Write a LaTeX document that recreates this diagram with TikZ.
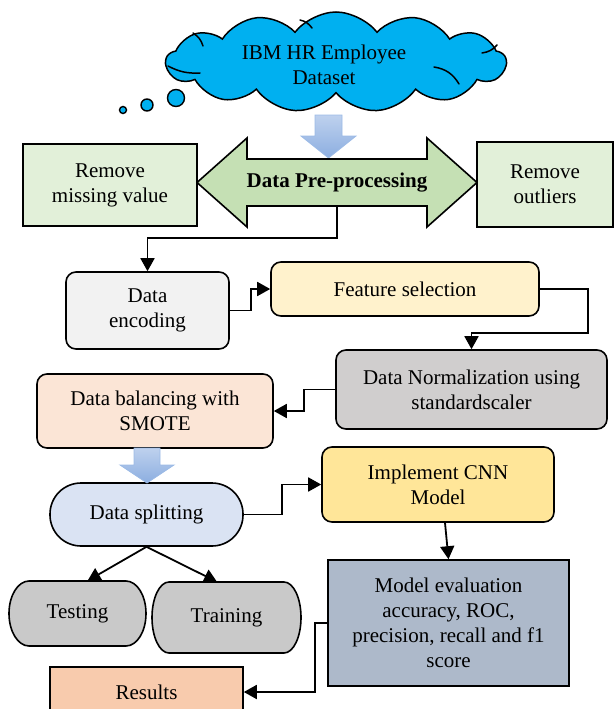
\documentclass[tikz,border=0pt]{standalone}
\usepackage{fontspec}
\setmainfont{Liberation Serif}
\usetikzlibrary{shapes.symbols,arrows.meta,calc}

\definecolor{cloudblue}{HTML}{00B0F0}
\definecolor{palegreen}{HTML}{E2F0D9}
\definecolor{midgreen}{HTML}{C5E0B4}
\definecolor{encfill}{HTML}{F2F2F2}
\definecolor{featfill}{HTML}{FFF2CC}
\definecolor{normfill}{HTML}{D0CECE}
\definecolor{balfill}{HTML}{FBE5D6}
\definecolor{splitfill}{HTML}{DAE3F3}
\definecolor{cnnfill}{HTML}{FFE699}
\definecolor{evalfill}{HTML}{ADB9CA}
\definecolor{setfill}{HTML}{C9C9C9}
\definecolor{resfill}{HTML}{F8CBAD}
\definecolor{arrowtop}{HTML}{BED1EE}
\definecolor{arrowbot}{HTML}{8CAEE0}
\definecolor{arrowedge}{HTML}{9BBAE6}

\begin{document}
\begin{tikzpicture}[x=1pt,y=-1pt,
  every node/.style={font=\fontsize{21}{25}\selectfont, align=center, inner sep=0pt},
  box/.style={draw=black, line width=1.6pt},
  rbox/.style={box, rounded corners=10pt},
  conn/.style={line width=1.8pt, -{Triangle[length=13pt,width=14pt]}},
  blockarrow/.style={top color=arrowtop, bottom color=arrowbot, draw=arrowedge, line width=0.8pt},
  bubble/.style={circle, draw=black, fill=cloudblue, line width=1.4pt},
  crease/.style={line width=1.5pt, line cap=round},
]
\useasboundingbox (0,0) rectangle (614,709);

% dataset cloud with its thought bubbles
\node[cloud, draw=black, fill=cloudblue, line width=1.5pt, cloud puffs=13,
      cloud puff arc=105, minimum width=340pt, minimum height=100pt] (cloud) at (336,62) {};
\draw[crease] (193,33) to[bend left=20] (203,46);
\draw[crease] (168,66) to[bend right=15] (200,73);
\draw[crease] (434,67) to[bend left=25] (459,84);
\draw[crease] (482,53) to[bend right=20] (497,45);
\draw[crease] (300,20) to[bend left=20] (312,28);
\node (ds) at (324,64.5) {IBM HR Employee\\Dataset};
\node[bubble, minimum size=7pt] (b1) at (123,110) {};
\node[bubble, minimum size=12pt] (b2) at (147,105) {};
\node[bubble, minimum size=17pt] (b3) at (176,98) {};

% block arrow: cloud -> pre-processing
\draw[blockarrow] (315,115) -- (342,115) -- (342,136) -- (356,136) -- (328.5,158)
  -- (301,136) -- (315,136) -- cycle;

% pre-processing double arrow
\draw[line width=1.6pt, fill=midgreen] (197,182.5) -- (247,138) -- (247,159) -- (427,159)
  -- (427,138) -- (477,182.5) -- (427,227) -- (427,206) -- (247,206) -- (247,227) -- cycle;
\node[minimum width=180pt, minimum height=47pt] (pre) at (337,182.5) {\textbf{Data Pre-processing}};

\node[box, fill=palegreen, minimum width=174pt, minimum height=82pt] (miss) at (110,185) {Remove\\missing value};
\node[box, fill=palegreen, minimum width=136pt, minimum height=85pt] (outl) at (545,184.5) {Remove\\outliers};

% pipeline steps
\node[rbox, fill=encfill, minimum width=163pt, minimum height=77pt] (enc) at (147.5,310.5) {Data\\encoding};
\node[rbox, fill=featfill, minimum width=268pt, minimum height=54pt] (feat) at (405,289) {Feature selection};
\node[rbox, fill=normfill, minimum width=271pt, minimum height=79pt] (norm) at (471.5,389.5) {Data Normalization using\\standardscaler};
\node[rbox, fill=balfill, minimum width=236pt, minimum height=74pt] (bal) at (155,411) {Data balancing with\\SMOTE};
\node[box, rounded corners=31pt, fill=splitfill, minimum width=193pt, minimum height=63pt] (split) at (146.5,514.5) {Data splitting};
\node[rbox, fill=cnnfill, minimum width=232pt, minimum height=75pt] (cnn) at (438,484.5) {Implement CNN\\Model};
\node[box, fill=evalfill, minimum width=241pt, minimum height=126pt] (eval) at (448.5,623) {Model evaluation\\accuracy, ROC,\\precision, recall and f1\\score};
\node[box, fill=resfill, minimum width=193pt, minimum height=50pt] (res) at (146.5,692) {Results};

% testing / training sets with elliptic caps
\draw[box, fill=setfill] (29,581) -- (126,581) arc[start angle=90, end angle=-90, x radius=20pt, y radius=32.5pt]
  -- (29,646) arc[start angle=270, end angle=90, x radius=20pt, y radius=32.5pt] -- cycle;
\node[minimum width=137pt, minimum height=65pt] (test) at (77.5,613.5) {Testing};
\draw[box, fill=setfill] (169,582) -- (284,582) arc[start angle=90, end angle=-90, x radius=17pt, y radius=35.5pt]
  -- (169,653) arc[start angle=270, end angle=90, x radius=17pt, y radius=35.5pt] -- cycle;
\node[minimum width=149pt, minimum height=71pt] (train) at (226.5,617.5) {Training};

% block arrow: balancing -> splitting
\draw[blockarrow] (134,448) -- (160,448) -- (160,465) -- (174,465) -- (147,483)
  -- (120,465) -- (134,465) -- cycle;

% connectors
\coordinate (fn) at (588,333);
\draw[conn] (pre.south) -- ++(0,32) -| (enc.north);
\draw[conn] (enc.east) -- ++(21,0) |- (feat.west);
\draw[conn] (feat.east) -| (fn) -| (norm.north);
\draw[conn] (norm.west) -- ++(-31,0) |- (bal.east);
\draw[conn] (split.east) -- ++(38,0) |- (cnn.west);
\draw[conn] ($(cnn.south)+(7,0)$) -- (eval.north);
\draw[conn] (split.south) -- ($(test.north)+(10,0)$);
\draw[conn] (split.south) -- ($(train.north)+(-9.5,0)$);
\draw[conn] (eval.west) -- ++(-12,0) |- (res.east);
\end{tikzpicture}
\end{document}
